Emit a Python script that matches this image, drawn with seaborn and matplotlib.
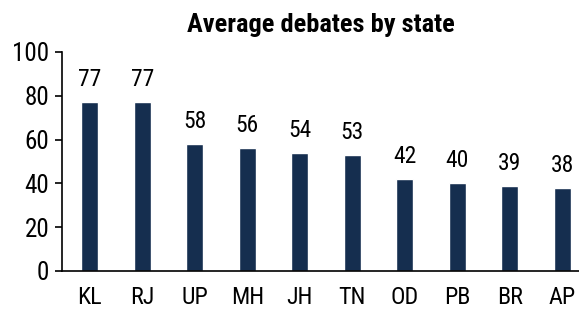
import matplotlib
matplotlib.use("Agg")
import matplotlib.pyplot as plt
from matplotlib import font_manager
import seaborn as sns
import pandas as pd

states = ["KL", "RJ", "UP", "MH", "JH", "TN", "OD", "PB", "BR", "AP"]
debates = [77, 77, 58, 56, 54, 53, 42, 40, 39, 38]
yticks = [0, 20, 40, 60, 80, 100]

sns.set_theme(style="white")
names = {f.name for f in font_manager.fontManager.ttflist}
narrow = None
for cand in ["Liberation Sans Narrow", "Arial Narrow", "Nimbus Sans Narrow", "Roboto Condensed"]:
    if cand in names:
        narrow = cand
        break
if narrow:
    plt.rcParams['font.family'] = [narrow, 'Liberation Sans', 'DejaVu Sans']
    k = 1.17
else:
    plt.rcParams['font.family'] = ['Liberation Sans', 'DejaVu Sans']
    k = 1.0

df = pd.DataFrame({"state": states, "debates": debates})

fig = plt.figure(figsize=(5.79, 3.09), dpi=100)
ax = fig.add_axes([0.107, 0.123, 0.893, 0.709])
sns.barplot(data=df, x="state", y="debates", color="#152E4F", width=0.32,
            saturation=1, ax=ax)

for i, v in enumerate(debates):
    ax.text(i, v + 5, f"{v}", ha="center", va="bottom", fontsize=14.5 * k, color="black")

ax.set_ylim(0, 100)
ax.set_xlim(-0.53, 9.32)
ax.set_yticks(yticks)
ax.set_xlabel("")
ax.set_ylabel("")
ax.set_title("Average debates by state", fontsize=16.2 * k, fontweight="bold", pad=14, color="black")
for s in ["top", "right"]:
    ax.spines[s].set_visible(False)
for s in ["left", "bottom"]:
    ax.spines[s].set_color("black")
    ax.spines[s].set_linewidth(1.2)
ax.tick_params(axis="y", which="both", left=True, length=5, width=1.2, labelsize=15.5 * k, colors="black", pad=4)
ax.tick_params(axis="x", bottom=False, labelsize=14.8 * k, colors="black", pad=5)

fig.savefig("out.png", dpi=100)
